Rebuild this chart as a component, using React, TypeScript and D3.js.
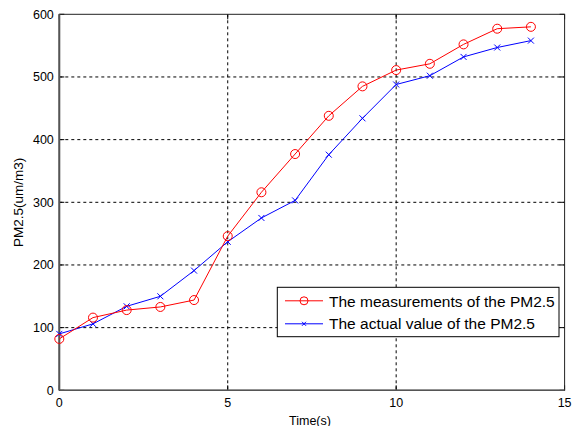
import React from "react";
import * as d3 from "d3";

const times = [0, 1, 2, 3, 4, 5, 6, 7, 8, 9, 10, 11, 12, 13, 14];
const measured = [82, 116, 128, 133, 144, 246, 316, 377, 438, 485, 511, 521, 552, 577, 580];
const actual = [90, 106, 134, 150, 191, 237, 275, 303, 376, 434, 488, 502, 532, 547, 558];
const xTicks = [0, 5, 10, 15];
const yTicks = [0, 100, 200, 300, 400, 500, 600];
const seriesNames = ["The measurements of the PM2.5", "The actual value of the PM2.5"];

export default function App() {
  const W = 574, H = 426;
  const left = 59.3, right = 564.6, top = 14.3, bottom = 390.3;
  const x = d3.scaleLinear().domain([0, 15]).range([left, right]);
  const y = d3.scaleLinear().domain([0, 600]).range([bottom, top]);
  const line = d3.line<number>().x((_, i) => x(times[i])).y((d) => y(d));
  const font = "Arial, 'Liberation Sans', sans-serif";
  const lgX = 277.3, lgY = 287.3, lgW = 281.7, lgH = 49.4;
  return (
    <svg width={W} height={H} style={{ position: "absolute", left: 0, top: 0, background: "#fff" }}>
      <rect x={0} y={0} width={W} height={H} fill="#fff" />
      {/* grid */}
      {xTicks.filter((t) => t > 0 && t < 15).map((t) => (
        <line key={"gx" + t} x1={x(t)} x2={x(t)} y1={top} y2={bottom} stroke="#000" strokeWidth={1} strokeDasharray="3,3" />
      ))}
      {yTicks.filter((t) => t > 0 && t < 600).map((t) => (
        <line key={"gy" + t} x1={left} x2={right} y1={y(t)} y2={y(t)} stroke="#000" strokeWidth={1} strokeDasharray="3,3" />
      ))}
      {/* ticks */}
      {xTicks.map((t) => (
        <g key={"tx" + t}>
          <line x1={x(t)} x2={x(t)} y1={bottom} y2={bottom - 5} stroke="#000" />
          <line x1={x(t)} x2={x(t)} y1={top} y2={top + 5} stroke="#000" />
          <text x={x(t)} y={bottom + 17} textAnchor="middle" fontSize={12.5} fontFamily={font} fill="#000">{t}</text>
        </g>
      ))}
      {yTicks.map((t) => (
        <g key={"ty" + t}>
          <line x1={left} x2={left + 5} y1={y(t)} y2={y(t)} stroke="#000" />
          <line x1={right} x2={right - 5} y1={y(t)} y2={y(t)} stroke="#000" />
          <text x={left - 5.5} y={y(t) + 4.5} textAnchor="end" fontSize={12.5} fontFamily={font} fill="#000">{t}</text>
        </g>
      ))}
      {/* frame */}
      <rect x={left} y={top} width={right - left} height={bottom - top} fill="none" stroke="#222" strokeWidth={1} />
      <line x1={left} x2={left} y1={top} y2={bottom} stroke="#555" strokeWidth={2} />
      <line x1={left} x2={right} y1={bottom} y2={bottom} stroke="#555" strokeWidth={1.5} />
      {/* series */}
      <path d={line(actual) || ""} fill="none" stroke="#0000ff" strokeWidth={1} />
      {actual.map((v, i) => (
        <g key={"b" + i} stroke="#0000ff" strokeWidth={1}>
          <line x1={x(times[i]) - 3} x2={x(times[i]) + 3} y1={y(v) - 3} y2={y(v) + 3} />
          <line x1={x(times[i]) - 3} x2={x(times[i]) + 3} y1={y(v) + 3} y2={y(v) - 3} />
        </g>
      ))}
      <path d={line(measured) || ""} fill="none" stroke="#ff0000" strokeWidth={1} />
      {measured.map((v, i) => (
        <circle key={"r" + i} cx={x(times[i])} cy={y(v)} r={4.5} fill="none" stroke="#ff0000" strokeWidth={1} />
      ))}
      {/* legend */}
      <rect x={lgX} y={lgY} width={lgW} height={lgH} fill="#fff" stroke="#000" strokeWidth={1} />
      <line x1={285} x2={323} y1={lgY + 13.5} y2={lgY + 13.5} stroke="#ff0000" />
      <circle cx={304} cy={lgY + 13.5} r={4} fill="none" stroke="#ff0000" />
      <text x={329} y={lgY + 19.4} fontSize={15.5} fontFamily={font} fill="#000">{seriesNames[0]}</text>
      <line x1={285} x2={323} y1={lgY + 36.5} y2={lgY + 36.5} stroke="#0000ff" />
      <g stroke="#0000ff">
        <line x1={302} x2={306} y1={lgY + 34.5} y2={lgY + 38.5} />
        <line x1={302} x2={306} y1={lgY + 38.5} y2={lgY + 34.5} />
      </g>
      <text x={329} y={lgY + 42} fontSize={15.5} fontFamily={font} fill="#000">{seriesNames[1]}</text>
      {/* axis labels */}
      <text x={310} y={424.5} textAnchor="middle" fontSize={12.5} fontFamily={font} fill="#000">Time(s)</text>
      <text transform={`translate(22.5,${(top + bottom) / 2}) rotate(-90)`} textAnchor="middle" fontSize={13.5} fontFamily={font} fill="#000">PM2.5(um/m3)</text>
    </svg>
  );
}
